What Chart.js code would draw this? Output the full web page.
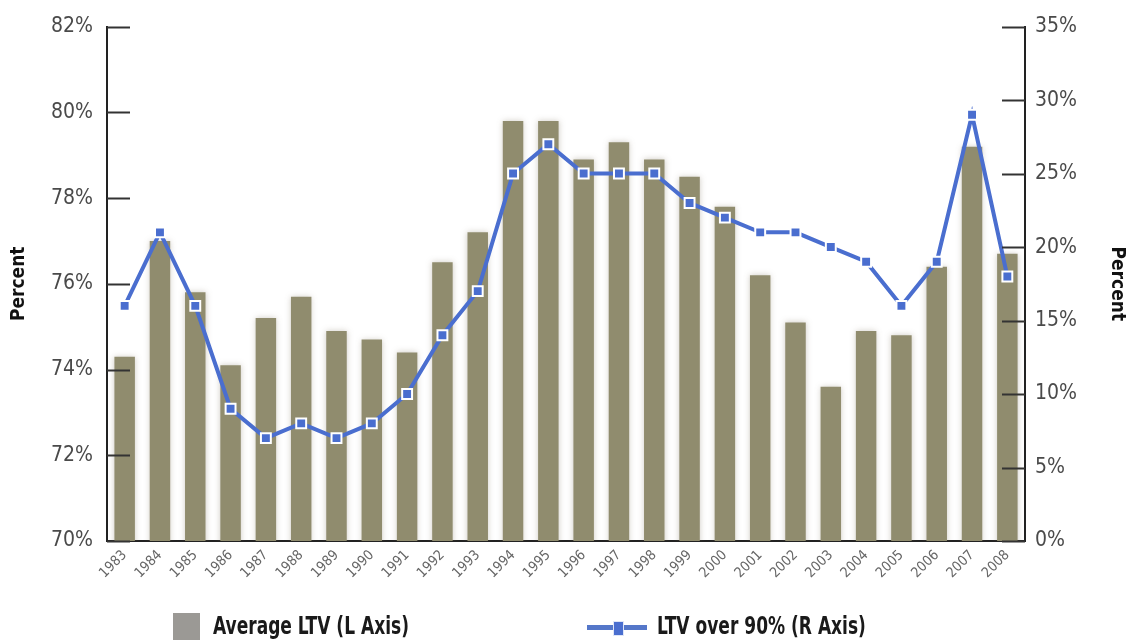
<!DOCTYPE html>
<html>
<head>
<meta charset="utf-8">
<script src="https://cdn.jsdelivr.net/npm/chart.js@4.4.1/dist/chart.umd.min.js"></script>
<style>
    body { margin: 0; background: #fff; }
    #wrap { position: relative; width: 1128px; height: 643px; overflow: hidden; }
    .legend-item { position: absolute; font-family: 'DejaVu Sans Condensed', sans-serif; font-weight: bold; font-size: 24px; color: #1a1a1a; white-space: nowrap; transform: scaleX(0.79); transform-origin: left top; }
    .swatch-bar { position: absolute; left: 173px; top: 613px; width: 27px; height: 27px; background: #9b9995; }
    .swatch-line { position: absolute; left: 587px; top: 625px; width: 60px; height: 5px; background: #5577c9; }
    .swatch-mark { position: absolute; left: 613px; top: 621px; width: 9px; height: 13px; background: #4a6ecf; border: 1px solid #dfe6f7; }
</style>
</head>
<body>
<div id="wrap">
    <canvas id="ltvChart" width="1128" height="643"></canvas>
    <div class="swatch-bar"></div>
    <div class="legend-item" style="left: 213px; top: 612px;">Average LTV (L Axis)</div>
    <div class="swatch-line"></div>
    <div class="swatch-mark"></div>
    <div class="legend-item" style="left: 657px; top: 612px;">LTV over 90% (R Axis)</div>
</div>
<script>
const years = ['1983', '1984', '1985', '1986', '1987', '1988', '1989', '1990', '1991', '1992',
               '1993', '1994', '1995', '1996', '1997', '1998', '1999', '2000', '2001', '2002',
               '2003', '2004', '2005', '2006', '2007', '2008'];
// Average LTV, left axis (%)
const avgLtv = [74.3, 77.0, 75.8, 74.1, 75.2, 75.7, 74.9, 74.7, 74.4, 76.5,
                77.2, 79.8, 79.8, 78.9, 79.3, 78.9, 78.5, 77.8, 76.2, 75.1,
                73.6, 74.9, 74.8, 76.4, 79.2, 76.7];
// Share of loans with LTV over 90%, right axis (%)
const ltvOver90 = [16, 21, 16, 9, 7, 8, 7, 8, 10, 14,
                   17, 25, 27, 25, 25, 25, 23, 22, 21, 21,
                   20, 19, 16, 19, 29, 18];
const leftTicks = [70, 72, 74, 76, 78, 80, 82];
const rightTicks = [0, 5, 10, 15, 20, 25, 30, 35];

const fontFamily = "'DejaVu Sans Condensed', sans-serif";

// tick marks drawn inward from each vertical axis
const innerTicks = {
    id: 'innerTicks',
    afterDraw(chart) {
        const ctx = chart.ctx;
        ctx.save();
        ctx.strokeStyle = '#333';
        ctx.lineWidth = 2;
        [['y', 1], ['y1', -1]].forEach(([id, dir]) => {
            const scale = chart.scales[id];
            const x0 = dir > 0 ? scale.right : scale.left;
            scale.ticks.forEach((t, i) => {
                const y = Math.round(scale.getPixelForTick(i)) + 0.5;
                ctx.beginPath();
                ctx.moveTo(x0, y);
                ctx.lineTo(x0 + dir * 23, y);
                ctx.stroke();
            });
        });
        ctx.restore();
    }
};

// soft halo behind the bars
const barGlow = {
    id: 'barGlow',
    beforeDatasetDraw(chart, args) {
        if (args.meta.type === 'bar') {
            chart.ctx.save();
            chart.ctx.shadowColor = 'rgba(120,110,90,0.35)';
            chart.ctx.shadowBlur = 6;
        }
    },
    afterDatasetDraw(chart, args) {
        if (args.meta.type === 'bar') chart.ctx.restore();
    }
};

new Chart(document.getElementById('ltvChart'), {
    type: 'bar',
    data: {
        labels: years,
        datasets: [
            {
                type: 'line',
                label: 'LTV over 90% (R Axis)',
                data: ltvOver90,
                yAxisID: 'y1',
                order: 0,
                borderColor: '#4a6ecf',
                borderWidth: 4,
                pointStyle: 'rect',
                pointRadius: 7,
                pointBackgroundColor: '#4a6ecf',
                pointBorderColor: '#ffffff',
                pointBorderWidth: 2,
                tension: 0
            },
            {
                label: 'Average LTV (L Axis)',
                data: avgLtv,
                yAxisID: 'y',
                order: 1,
                backgroundColor: '#908c6e',
                categoryPercentage: 1,
                barPercentage: 0.58
            }
        ]
    },
    options: {
        responsive: false,
        animation: false,
        layout: { padding: { top: 26, left: 0, right: 0, bottom: 0 } },
        plugins: {
            legend: { display: false },
            tooltip: { enabled: false }
        },
        scales: {
            x: {
                offset: true,
                grid: { display: false, drawTicks: false },
                border: { display: true, color: '#222', width: 2 },
                ticks: {
                    autoSkip: false,
                    maxRotation: 45,
                    minRotation: 45,
                    padding: 6,
                    color: '#666',
                    font: { family: fontFamily, size: 14 }
                },
                afterFit(scale) { scale.height = 102; }
            },
            y: {
                position: 'left',
                min: 70,
                max: 82,
                afterBuildTicks(scale) { scale.ticks = leftTicks.map(v => ({ value: v })); },
                grid: { display: false, drawTicks: false },
                border: { display: true, color: '#222', width: 2 },
                ticks: {
                    padding: 14,
                    color: '#4a4a4a',
                    font: { family: fontFamily, size: 21 },
                    callback: (v) => v + '%'
                },
                title: {
                    display: true,
                    text: 'Percent',
                    color: '#111',
                    padding: { top: 8, bottom: 0 },
                    font: { family: fontFamily, size: 19, weight: 'bold' }
                },
                afterFit(scale) { scale.width = 107; }
            },
            y1: {
                position: 'right',
                min: 0,
                max: 35,
                afterBuildTicks(scale) { scale.ticks = rightTicks.map(v => ({ value: v })); },
                grid: { display: false, drawTicks: false },
                border: { display: true, color: '#222', width: 2 },
                ticks: {
                    padding: 10,
                    color: '#4a4a4a',
                    font: { family: fontFamily, size: 21 },
                    callback: (v) => v + '%'
                },
                title: {
                    display: true,
                    text: 'Percent',
                    color: '#111',
                    padding: { top: 0, bottom: 0 },
                    font: { family: fontFamily, size: 19, weight: 'bold' }
                },
                afterFit(scale) { scale.width = 103; }
            }
        }
    },
    plugins: [innerTicks, barGlow]
});
</script>
</body>
</html>
